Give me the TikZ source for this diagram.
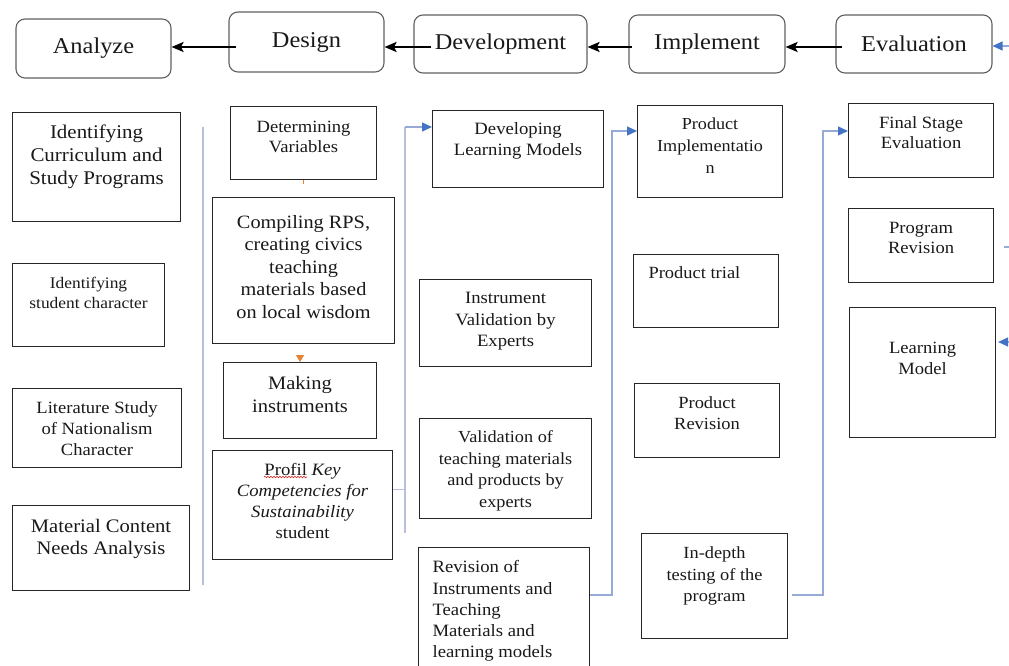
\documentclass[tikz,border=0pt]{standalone}
\usepackage{fontspec}
\setmainfont{Liberation Serif}[FakeStretch=1.08]
\usetikzlibrary{arrows.meta,decorations.pathmorphing}

\definecolor{framegray}{RGB}{95,95,100}
\definecolor{inkgray}{RGB}{25,25,25}
\definecolor{tipblue}{RGB}{68,114,196}
\definecolor{linkblue}{RGB}{150,170,215}
\definecolor{railgray}{RGB}{185,190,220}
\definecolor{accent}{RGB}{230,130,50}
\definecolor{spellred}{RGB}{215,40,40}

% box body: width, height, first baseline from top, lines, alignment
\newcommand\cellbody[5]{\parbox[c][#2][t]{#1}{#5\vspace*{\dimexpr#3-\ht\strutbox\relax}\strut#4\par}}

\begin{document}
\begin{tikzpicture}[x=1pt,y=-1pt,
  head/.style={draw=framegray, line width=1.1pt, rounded corners=9pt, inner sep=0pt,
    text=inkgray, font=\fontsize{22.6}{27}\selectfont},
  cell/.style={draw=black!85, line width=1.1pt, inner sep=0pt, anchor=north west, text=inkgray},
  flow/.style={black, line width=2pt, -{Stealth[length=12pt,width=10pt,inset=2.5pt]}},
  link/.style={linkblue, line width=1.3pt},
  linkarrow/.style={link, -{Triangle[length=10pt,width=9pt,color=tipblue]}},
  rail/.style={railgray, line width=1.3pt},
  accentline/.style={accent, line width=1.2pt},
  accentarrow/.style={accent, line width=1.2pt, -{Triangle[length=7pt,width=8pt]}}
]
\useasboundingbox (0,0) rectangle (1009,666);

% ---- stage headers ----
\node[head, minimum width=155pt, minimum height=59pt] (ana) at (93.5,48.5) {Analyze};
\node[head, minimum width=155pt, minimum height=60pt] (des) at (306.5,42) {Design};
\node[head, minimum width=173pt, minimum height=58pt] (dev) at (500.5,44) {Development};
\node[head, minimum width=156pt, minimum height=58pt] (imp) at (707,44) {Implement};
\node[head, minimum width=156pt, minimum height=58pt] (eva) at (914,44) {Evaluation};

\draw[flow] ([xshift=8pt,yshift=-5pt]des.west) -- ([yshift=1.5pt]ana.east);
\draw[flow] ([xshift=18pt,yshift=-3pt]dev.west) -- ([yshift=-5pt]des.east);
\draw[flow] ([xshift=4pt,yshift=-3pt]imp.west) -- ([yshift=-3pt]dev.east);
\draw[flow] ([xshift=7pt,yshift=-3pt]eva.west) -- ([yshift=-3pt]imp.east);

% ---- Analyze column ----
\node[cell, font=\fontsize{19.4}{23}\selectfont] (cur) at (12,112)
  {\cellbody{168pt}{109pt}{25.8pt}{Identifying\\Curriculum and\\Study Programs}{\centering}};
\node[cell, font=\fontsize{16.1}{20}\selectfont] (stu) at (12,263)
  {\cellbody{152pt}{83pt}{24.8pt}{Identifying\\student character}{\centering}};
\node[cell, font=\fontsize{17.2}{21}\selectfont] (lit) at (12,388)
  {\cellbody{169pt}{79pt}{25.2pt}{Literature Study\\of Nationalism\\Character}{\centering}};
\node[cell, font=\fontsize{19.1}{22.5}\selectfont] (mat) at (12,505)
  {\cellbody{177pt}{85pt}{26.7pt}{Material Content\\Needs Analysis}{\centering}};

% ---- Design column ----
\node[cell, font=\fontsize{17.2}{19.5}\selectfont] (var) at (230,106)
  {\cellbody{146pt}{73pt}{26.2pt}{Determining\\Variables}{\centering}};
\node[cell, font=\fontsize{18.8}{22.5}\selectfont] (rps) at (212,197)
  {\cellbody{182pt}{146pt}{30.6pt}{Compiling RPS,\\creating civics\\teaching\\materials based\\on local wisdom}{\centering}};
\node[cell, font=\fontsize{19}{23}\selectfont] (mak) at (223,362)
  {\cellbody{153pt}{76pt}{26.7pt}{Making\\instruments}{\centering}};
\node[cell, font=\fontsize{17.3}{21}\selectfont] (pro) at (212,450)
  {\cellbody{180pt}{109pt}{25.2pt}{Profil \textit{Key}\\\textit{Competencies for}\\\textit{Sustainability}\\student}{\centering}};

% ---- Development column ----
\node[cell, font=\fontsize{17.3}{20.5}\selectfont] (dlm) at (432,110)
  {\cellbody{171pt}{77pt}{24.2pt}{Developing\\Learning Models}{\centering}};
\node[cell, font=\fontsize{17.3}{21.5}\selectfont] (ive) at (419,279)
  {\cellbody{172pt}{87pt}{24.2pt}{Instrument\\Validation by\\Experts}{\centering}};
\node[cell, font=\fontsize{16.9}{21.5}\selectfont] (vtm) at (419,418)
  {\cellbody{172pt}{100pt}{24.1pt}{Validation of\\teaching materials\\and products by\\experts}{\centering}};
\node[cell, font=\fontsize{17.3}{21.3}\selectfont] (rev) at (418,547)
  {\cellbody{171pt}{135pt}{25.2pt}{Revision of\\Instruments and\\Teaching\\Materials and\\learning models}{\raggedright\leftskip=14pt}};

% ---- Implement column ----
\node[cell, font=\fontsize{16.8}{22}\selectfont] (pim) at (637,105)
  {\cellbody{145pt}{92pt}{24pt}{Product\\Implementatio\\n}{\centering}};
\node[cell, font=\fontsize{17.1}{21}\selectfont] (ptr) at (633,254)
  {\cellbody{145pt}{73pt}{24.1pt}{Product trial}{\raggedright\leftskip=15pt}};
\node[cell, font=\fontsize{17.1}{20.5}\selectfont] (prv) at (634,383)
  {\cellbody{145pt}{74pt}{25.1pt}{Product\\Revision}{\centering}};
\node[cell, font=\fontsize{17}{21.5}\selectfont] (ind) at (641,533)
  {\cellbody{146pt}{105pt}{25.1pt}{In-depth\\testing of the\\program}{\centering}};

% ---- Evaluation column ----
\node[cell, font=\fontsize{17.2}{20}\selectfont] (fse) at (848,103)
  {\cellbody{145pt}{74pt}{25.2pt}{Final Stage\\Evaluation}{\centering}};
\node[cell, font=\fontsize{17.2}{20}\selectfont] (prr) at (848,208)
  {\cellbody{145pt}{74pt}{25.2pt}{Program\\Revision}{\centering}};
\node[cell, font=\fontsize{17.2}{21}\selectfont] (lmo) at (849,307)
  {\cellbody{146pt}{130pt}{46.2pt}{Learning\\Model}{\centering}};

% spell-check squiggle under "Profil"
\draw[spellred, line width=0.6pt, decorate,
  decoration={snake, amplitude=0.8pt, segment length=3pt}]
  ([xshift=52pt,yshift=-27pt]pro.north west) -- ([xshift=95pt,yshift=-27pt]pro.north west);

% ---- connectors ----
\coordinate (r1t) at (203,127);
\coordinate (r1b) at (203,585);
\draw[rail] (r1t) -- (r1b);

\coordinate (aT) at (405,127);
\coordinate (aB) at (405,533);
\draw[rail] (aB) -- (aT);
\draw[rail] ([yshift=15.5pt]pro.east) coordinate (pj) -- (pj -| aT);
\draw[linkarrow] (aT) -- (dlm.west |- aT);

\coordinate (bT) at (612,131);
\coordinate (bB) at (612,595);
\draw[linkarrow] (rev.east |- bB) -- (bB) -- (bT) -- (pim.west |- bT);

\coordinate (cT) at (823,131);
\coordinate (cB) at (823,595);
\draw[linkarrow] ([xshift=4pt]ind.east |- cB) -- (cB) -- (cT) -- (fse.west |- cT);

\coordinate (evain) at (1012,46);
\draw[linkarrow] (evain) -- (eva.east |- evain);
\coordinate (prout) at (1012,247);
\draw[link] ([xshift=10pt]prr.east |- prout) -- (prout);
\coordinate (lmin) at (1012,342);
\draw[linkarrow] (lmin) -- ([xshift=2pt]lmo.east |- lmin);

\draw[accentline] (var.south) -- ([yshift=-4pt]var.south);
\draw[accentarrow, shorten <=11pt] (rps.south -| mak.north) -- (mak.north);

\end{tikzpicture}
\end{document}
